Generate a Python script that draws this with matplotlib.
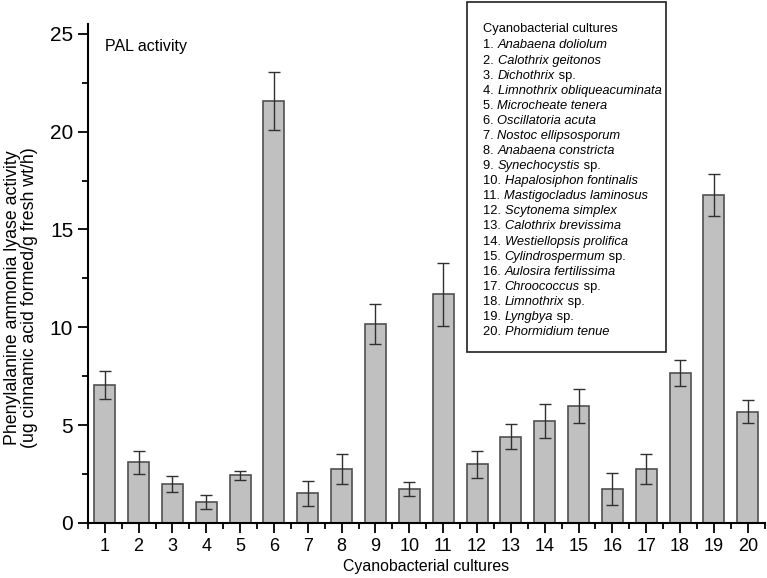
import numpy as np
import matplotlib.pyplot as plt
import matplotlib.patches as mpatches

plt.rcParams['font.family'] = ['Liberation Sans', 'DejaVu Sans']

# kultury sinic 1..20
kultury = np.arange(1, 21)
pal = [7.05, 3.1, 1.98, 1.09, 2.44, 21.57, 1.52, 2.76, 10.19, 1.72,
       11.69, 3.0, 4.41, 5.21, 5.97, 1.72, 2.75, 7.65, 16.77, 5.69]
blad = [0.7, 0.6, 0.4, 0.36, 0.23, 1.5, 0.64, 0.75, 1.02, 0.36,
        1.6, 0.68, 0.64, 0.89, 0.87, 0.82, 0.76, 0.67, 1.06, 0.58]

# nazwy: (czesc kursywa, dopisek prosty)
gatunki = [("Anabaena doliolum", ""), ("Calothrix geitonos", ""),
           ("Dichothrix", "sp."), ("Limnothrix obliqueacuminata", ""),
           ("Microcheate tenera", ""), ("Oscillatoria acuta", ""),
           ("Nostoc ellipsosporum", ""), ("Anabaena constricta", ""),
           ("Synechocystis", "sp."), ("Hapalosiphon fontinalis", ""),
           ("Mastigocladus laminosus", ""), ("Scytonema simplex", ""),
           ("Calothrix brevissima", ""), ("Westiellopsis prolifica", ""),
           ("Cylindrospermum", "sp."), ("Aulosira fertilissima", ""),
           ("Chroococcus", "sp."), ("Limnothrix", "sp."),
           ("Lyngbya", "sp."), ("Phormidium tenue", "")]

fig = plt.figure(figsize=(7.67, 5.78), dpi=100)
ax = fig.add_axes([0.1145, 0.0952, 0.8825, 0.8633])

ax.bar(kultury, pal, 0.62, color='#c0c0c0', edgecolor='#505050', linewidth=1.2, zorder=2)
ax.errorbar(kultury, pal, yerr=blad, fmt='none', ecolor='#303030',
            elinewidth=1.0, capsize=4, capthick=1.0, zorder=3)

ax.set_xlim(0.5, 20.5)
ax.set_ylim(0, 25.5)
ax.set_xticks(kultury)
ax.set_xticks(np.arange(0.5, 21, 1), minor=True)
ax.set_yticks(np.arange(0, 26, 5))
ax.set_yticks(np.arange(2.5, 25, 5), minor=True)
ax.tick_params(axis='y', which='major', direction='out', length=7, width=1.3, labelsize=15)
ax.tick_params(axis='y', which='minor', direction='out', length=4, width=1.3)
ax.tick_params(axis='x', which='major', direction='out', length=7, width=1.3, labelsize=13)
ax.tick_params(axis='x', which='minor', direction='out', length=4, width=1.3)
for s in ['top', 'right']:
    ax.spines[s].set_visible(False)
for s in ['left', 'bottom']:
    ax.spines[s].set_linewidth(1.5)

ax.set_xlabel('Cyanobacterial cultures', fontsize=11.4, labelpad=3)
ax.set_ylabel('Phenylalanine ammonia lyase activity\n(ug cinnamic acid formed/g fresh wt/h)',
              fontsize=12.8, linespacing=1.0)
ax.yaxis.set_label_coords(-0.0736, 0.451)
ax.text(0.025, 0.955, 'PAL activity', transform=ax.transAxes, fontsize=11.5, va='center')

# ramka z opisem
ramka = mpatches.Rectangle((0.609, 0.391), 0.259, 0.6055, transform=fig.transFigure,
                           fill=False, edgecolor='#202020', linewidth=1.2)
fig.patches.append(ramka)
y0 = 0.95
dy = 15.08 / 578
rozm = 9.3
fig.text(0.63, y0, 'Cyanobacterial cultures', fontsize=rozm, va='center')
rend = fig.canvas.get_renderer()
for i, (kurs, dop) in enumerate(gatunki):
    y = y0 - (i + 1) * dy - 4.5 / 578
    x = 0.63
    t1 = fig.text(x, y, str(i + 1) + '. ', fontsize=rozm, va='baseline')
    x += t1.get_window_extent(rend).width / fig.bbox.width
    t2 = fig.text(x, y, kurs, fontsize=rozm, style='italic', va='baseline')
    x += t2.get_window_extent(rend).width / fig.bbox.width
    if dop:
        fig.text(x, y, ' ' + dop, fontsize=rozm, va='baseline')

fig.savefig('out.png', dpi=100)
